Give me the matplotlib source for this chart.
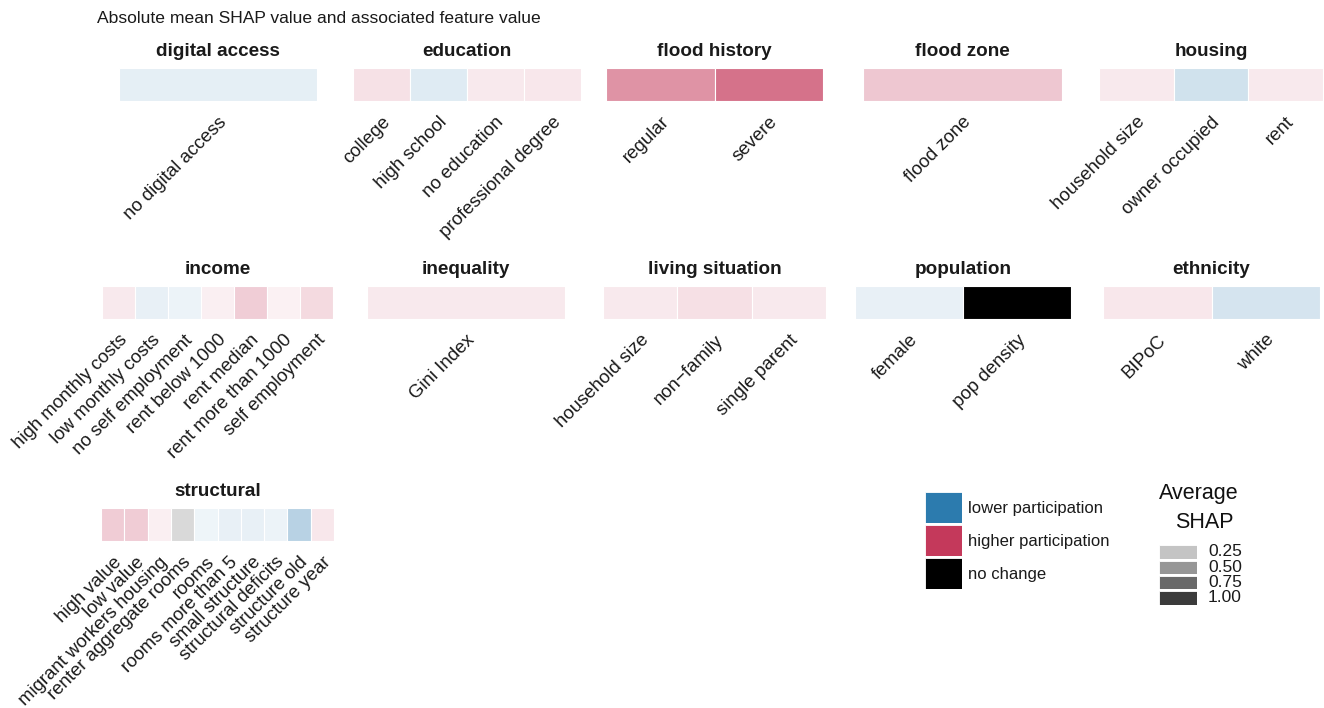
import matplotlib
matplotlib.use("Agg")
import matplotlib.pyplot as plt
from matplotlib.colors import to_rgb
import numpy as np

plt.rcParams['font.family'] = ['Liberation Sans', 'DejaVu Sans']

W, H = 1324, 708

# ---------------- data ----------------
groups = ["digital access", "education", "flood history", "flood zone", "housing",
          "income", "inequality", "living situation", "population", "ethnicity",
          "structural"]

features = {
    "digital access": ["no digital access"],
    "education": ["college", "high school", "no education", "professional degree"],
    "flood history": ["regular", "severe"],
    "flood zone": ["flood zone"],
    "housing": ["household size", "owner occupied", "rent"],
    "income": ["high monthly costs", "low monthly costs", "no self employment",
               "rent below 1000", "rent median", "rent more than 1000", "self employment"],
    "inequality": ["Gini Index"],
    "living situation": ["household size", "non\u2212family", "single parent"],
    "population": ["female", "pop density"],
    "ethnicity": ["BIPoC", "white"],
    "structural": ["high value", "low value", "migrant workers housing",
                   "renter aggregate rooms", "rooms", "rooms more than 5",
                   "small structure", "structural deficits", "structure old",
                   "structure year"],
}

direction = {
    "digital access": ["lower"],
    "education": ["higher", "lower", "higher", "higher"],
    "flood history": ["higher", "higher"],
    "flood zone": ["higher"],
    "housing": ["higher", "lower", "higher"],
    "income": ["higher", "lower", "lower", "higher", "higher", "higher", "higher"],
    "inequality": ["higher"],
    "living situation": ["higher", "higher", "higher"],
    "population": ["lower", "none"],
    "ethnicity": ["higher", "lower"],
    "structural": ["higher", "higher", "higher", "none", "lower", "lower",
                   "lower", "lower", "lower", "higher"],
}

mean_shap = {
    "digital access": [0.10],
    "education": [0.14, 0.14, 0.085, 0.10],
    "flood history": [0.69, 0.92],
    "flood zone": [0.32],
    "housing": [0.085, 0.24, 0.085],
    "income": [0.085, 0.085, 0.055, 0.04, 0.28, 0.03, 0.19],
    "inequality": [0.085],
    "living situation": [0.085, 0.15, 0.085],
    "population": [0.085, 1.32],
    "ethnicity": [0.10, 0.21],
    "structural": [0.29, 0.29, 0.04, 0.14, 0.04, 0.085, 0.085, 0.055, 0.40, 0.10],
}

direction_labels = ["lower participation", "higher participation", "no change"]
shap_breaks = [0.25, 0.50, 0.75, 1.00]

# ---------------- style ----------------
dir_colors = {"lower": "#2C7BAE", "higher": "#C4395B", "none": "#000000"}


def shap_alpha(v):
    return float(np.clip(0.05 + 0.72 * v, 0, 1))


def blend(color, a):
    c = np.array(to_rgb(color))
    return tuple(1 - a * (1 - c))


# panel pixel boxes (x0, x1, row)
rows_y = [(68, 101), (286, 319), (508, 541)]
panel_x = {
    "digital access": (119, 317, 0), "education": (353, 581, 0),
    "flood history": (606, 823, 0), "flood zone": (863, 1062, 0),
    "housing": (1099, 1323, 0),
    "income": (102, 333, 1), "inequality": (367, 565, 1),
    "living situation": (603, 826, 1), "population": (855, 1071, 1),
    "ethnicity": (1103, 1320, 1),
    "structural": (101, 334, 2),
}

fig = plt.figure(figsize=(W / 100, H / 100), dpi=100)
fig.patch.set_facecolor("white")

fig.text(97 / W, 1 - 18.5 / H, "Absolute mean SHAP value and associated feature value",
         fontsize=12.6, ha="left", va="center", color="#1a1a1a")

for g in groups:
    x0, x1, r = panel_x[g]
    y0, y1 = rows_y[r]
    ax = fig.add_axes([x0 / W, 1 - y1 / H, (x1 - x0) / W, (y1 - y0) / H])
    n = len(features[g])
    cols = [blend(dir_colors[d], shap_alpha(v)) for d, v in zip(direction[g], mean_shap[g])]
    ax.bar(np.arange(n), 1, width=1.0, bottom=0, color=cols, edgecolor="white", linewidth=0.8)
    ax.set_xlim(-0.5, n - 0.5)
    ax.set_ylim(0, 1)
    ax.set_yticks([])
    ax.set_xticks(np.arange(n))
    ax.set_xticklabels(features[g], rotation=45, ha="right", rotation_mode="anchor",
                       fontsize=13.4, color="#1a1a1a")
    ax.tick_params(axis="x", length=0, pad=9)
    for s in ax.spines.values():
        s.set_visible(False)
    fig.text((x0 + x1) / 2 / W, 1 - (y0 - 16.5) / H, g, fontsize=13.6, fontweight="bold",
             ha="center", va="center", color="#1a1a1a")

# ---------------- legend: direction ----------------
key_boxes = [(492, 523), (525, 556), (558, 589)]
for (ky0, ky1), d, lab in zip(key_boxes, ["lower", "higher", "none"], direction_labels):
    lax = fig.add_axes([925 / W, 1 - ky1 / H, 37 / W, (ky1 - ky0) / H])
    lax.bar([0], [1], width=1, color=dir_colors[d], edgecolor="white", linewidth=0.6)
    lax.set_xlim(-0.5, 0.5); lax.set_ylim(0, 1); lax.axis("off")
    fig.text(968 / W, 1 - ((ky0 + ky1) / 2 + 1) / H, lab, fontsize=12, ha="left",
             va="center", color="#1a1a1a")

# ---------------- legend: alpha ----------------
fig.text(1159 / W, 1 - 493 / H, "Average", fontsize=15.5, ha="left", va="center", color="#111")
fig.text(1175 / W, 1 - 523 / H, "SHAP", fontsize=15.5, ha="left", va="center", color="#111")
akeys = [(545, 559), (561, 574), (576, 589), (591, 605)]
for (ky0, ky1), b in zip(akeys, shap_breaks):
    lax = fig.add_axes([1159 / W, 1 - ky1 / H, 38 / W, (ky1 - ky0) / H])
    lax.bar([0], [1], width=1, color=blend("#000000", shap_alpha(b)),
            edgecolor="white", linewidth=0.6)
    lax.set_xlim(-0.5, 0.5); lax.set_ylim(0, 1); lax.axis("off")
    fig.text(1208 / W, 1 - ((ky0 + ky1) / 2) / H, f"{b:.2f}", fontsize=12.5, ha="left",
             va="center", color="#1a1a1a")

fig.savefig("out.png", dpi=100, facecolor="white")
